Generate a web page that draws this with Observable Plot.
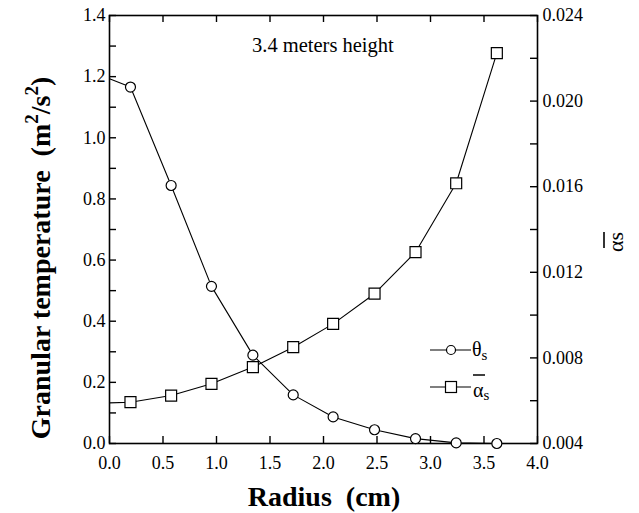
<!DOCTYPE html>
<html lang="en">
<head>
<meta charset="utf-8">
<script src="https://cdn.jsdelivr.net/npm/d3@7"></script>
<script src="https://cdn.jsdelivr.net/npm/@observablehq/plot@0.6"></script>
</head>
<body style="margin:0;background:white">
<div id="chart"></div>
<script>
// ---- data ----
const radius = [0.196, 0.576, 0.953, 1.34, 1.717, 2.09, 2.477, 2.86, 3.24, 3.62];
const theta  = [1.166, 0.844, 0.514, 0.289, 0.159, 0.087, 0.045, 0.016, 0.002, 0.0];
const alphaS = [0.00593, 0.00624, 0.00679, 0.00757, 0.0085, 0.00959, 0.0110, 0.01294, 0.01616, 0.02224];
// line values where the curves meet the left axis (no marker drawn)
const thetaAtAxis = 1.193;
const alphaAtAxis = 0.0059;

const xTicks = [0, 0.5, 1.0, 1.5, 2.0, 2.5, 3.0, 3.5, 4.0];
const yTicks = [0, 0.2, 0.4, 0.6, 0.8, 1.0, 1.2, 1.4];
const yMinor = [0.1, 0.3, 0.5, 0.7, 0.9, 1.1, 1.3];
const alphaTicks = [0.004, 0.008, 0.012, 0.016, 0.020, 0.024];
const alphaMinor = [0.006, 0.010, 0.014, 0.018, 0.022];

const xLabel = "Radius\u00a0 (cm)";
const yLabelMain = "Granular temperature\u00a0 (m";
const annotation = "3.4 meters height";

// secondary axis: alpha domain [0.004, 0.024] mapped onto left domain [0, 1.4]
const aMin = 0.004, aMax = 0.024, yMax = 1.4;
const aToY = a => (a - aMin) / (aMax - aMin) * yMax;
const yToA = y => aMin + y / yMax * (aMax - aMin);

const thetaLine = [{r: 0, v: thetaAtAxis}, ...radius.map((r, i) => ({r, v: theta[i]}))];
const alphaLine = [{r: 0, v: aToY(alphaAtAxis)}, ...radius.map((r, i) => ({r, v: aToY(alphaS[i])}))];
const thetaPts = radius.map((r, i) => ({r, v: theta[i]}));
const alphaPts = radius.map((r, i) => ({r, v: aToY(alphaS[i])}));

const W = 639, H = 513;
const mL = 109, mR = 102, mT = 15, mB = 70;
const innerW = W - mL - mR, innerH = H - mT - mB;
const tickLen = 7;
const font = "Liberation Serif, Times New Roman, Tinos, serif";

const plot = Plot.plot({
  width: W, height: H,
  marginLeft: mL, marginRight: mR, marginTop: mT, marginBottom: mB,
  style: {fontFamily: font, fontSize: "18px"},
  x: {domain: [0, 4]},
  y: {domain: [0, yMax]},
  marks: [
    Plot.frame({stroke: "black", strokeWidth: 1.6}),
    Plot.tickX(xTicks, {x: d => d, insetTop: innerH - tickLen, strokeWidth: 1.4}),
    Plot.tickX(xTicks, {x: d => d, insetBottom: innerH - tickLen, strokeWidth: 1.4}),
    Plot.tickY([...yTicks, ...yMinor], {y: d => d, insetRight: innerW - tickLen, strokeWidth: 1.4}),
    Plot.tickY([...alphaTicks, ...alphaMinor].map(aToY), {y: d => d, insetLeft: innerW - tickLen, strokeWidth: 1.4}),
    Plot.axisX(xTicks, {tickSize: 0, tickPadding: 13, tickFormat: d3.format(".1f"), label: null}),
    Plot.axisY(yTicks, {anchor: "left", tickSize: 0, tickPadding: 4, tickFormat: d3.format(".1f"), label: null}),
    Plot.axisY(alphaTicks.map(aToY), {anchor: "right", tickSize: 0, tickPadding: 5,
      tickFormat: d => d3.format(".3f")(yToA(d)), label: null}),
    Plot.line(thetaLine, {x: "r", y: "v", stroke: "black", strokeWidth: 1.1}),
    Plot.line(alphaLine, {x: "r", y: "v", stroke: "black", strokeWidth: 1.1}),
    Plot.dot(thetaPts, {x: "r", y: "v", r: 5, fill: "white", stroke: "black", strokeWidth: 1.2}),
    Plot.dot(alphaPts, {x: "r", y: "v", symbol: "square", r: 6.2, fill: "white", stroke: "black", strokeWidth: 1.2})
  ]
});

document.getElementById("chart").appendChild(plot);

// ---- annotations, titles, legend ----
const svg = d3.select(plot);
const g = svg.append("g").attr("fill", "black").attr("text-anchor", "start");

// in-plot annotation
g.append("text").attr("x", 252).attr("y", 52).attr("font-size", 20.5)
  .attr("text-anchor", "start").text(annotation);

// x title
g.append("text").attr("x", 324).attr("y", 506).attr("text-anchor", "middle")
  .attr("font-size", 28).attr("font-weight", "bold").text(xLabel);

// y title (left)
const yt = g.append("text").attr("transform", "translate(50,258) rotate(-90)")
  .attr("text-anchor", "middle").attr("font-size", 28).attr("font-weight", "bold");
yt.append("tspan").text(yLabelMain);
yt.append("tspan").attr("dy", -12).attr("font-size", 19).text("2");
yt.append("tspan").attr("dy", 12).text("/s");
yt.append("tspan").attr("dy", -12).attr("font-size", 19).text("2");
yt.append("tspan").attr("dy", 12).text(")");

// y title (right): overlined alpha_s
g.append("text").attr("transform", "translate(623,252) rotate(-90)")
  .attr("text-anchor", "start").attr("font-size", 22).text("αs");
g.append("line").attr("x1", 604).attr("x2", 604).attr("y1", 232).attr("y2", 248)
  .attr("stroke", "black").attr("stroke-width", 1.6);

// legend
const lg = g.append("g");
const rows = [{y: 350, sym: "circle"}, {y: 387, sym: "square"}];
rows.forEach(row => {
  lg.append("line").attr("x1", 430).attr("x2", 471).attr("y1", row.y).attr("y2", row.y)
    .attr("stroke", "black").attr("stroke-width", 1.1);
  if (row.sym === "circle") {
    lg.append("circle").attr("cx", 451).attr("cy", row.y).attr("r", 4.5)
      .attr("fill", "white").attr("stroke", "black").attr("stroke-width", 1.2);
  } else {
    lg.append("rect").attr("x", 451 - 5.5).attr("y", row.y - 5.5).attr("width", 11).attr("height", 11)
      .attr("fill", "white").attr("stroke", "black").attr("stroke-width", 1.2);
  }
});
const t1 = lg.append("text").attr("x", 472).attr("y", 356).attr("font-size", 20).attr("text-anchor", "start");
t1.append("tspan").text("θ");
t1.append("tspan").attr("dy", 4).attr("font-size", 15).text("s");
const t2 = lg.append("text").attr("x", 473).attr("y", 397).attr("font-size", 20).attr("text-anchor", "start");
t2.append("tspan").text("α");
t2.append("tspan").attr("dy", 3).attr("font-size", 15).text("s");
lg.append("line").attr("x1", 473).attr("x2", 485).attr("y1", 375).attr("y2", 375)
  .attr("stroke", "black").attr("stroke-width", 1.5);
</script>
</body>
</html>
